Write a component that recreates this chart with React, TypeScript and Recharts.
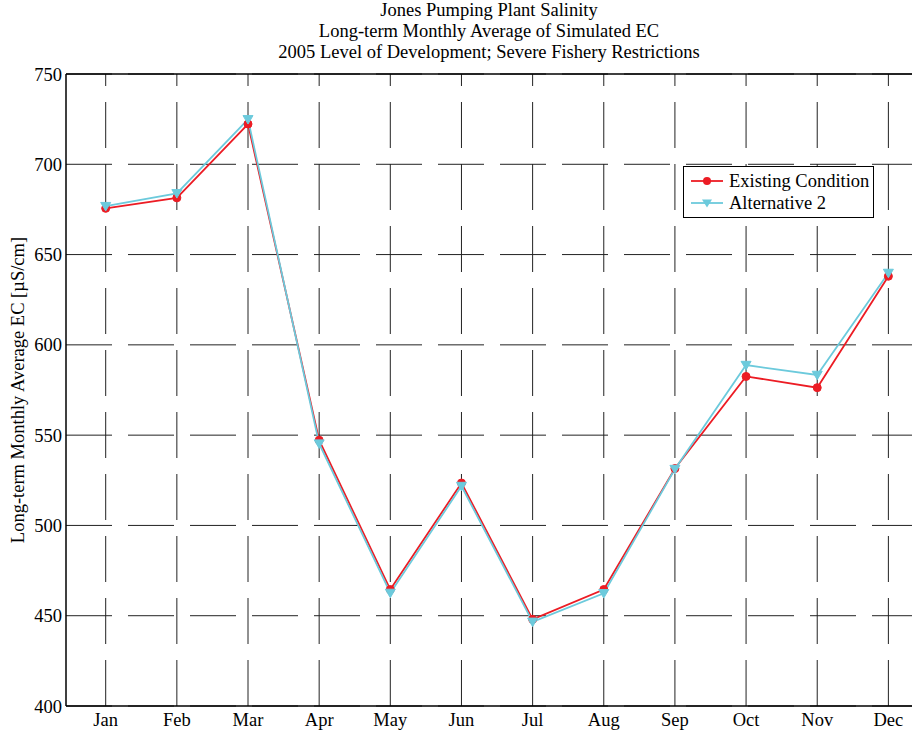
import React from "react";
import {
  LineChart,
  Line,
  XAxis,
  YAxis,
  CartesianGrid,
  ReferenceLine,
} from "recharts";

const months = ["Jan", "Feb", "Mar", "Apr", "May", "Jun", "Jul", "Aug", "Sep", "Oct", "Nov", "Dec"];
const existingCondition = [675.6, 681.4, 722.3, 547.2, 464.5, 523.5, 448.0, 464.5, 531.5, 582.5, 576.3, 638.0];
const alternative2 = [676.8, 683.9, 724.9, 545.3, 462.6, 521.8, 446.6, 462.4, 531.2, 588.8, 583.3, 639.8];
const yTicks = [400, 450, 500, 550, 600, 650, 700, 750];
const titleLines = [
  "Jones Pumping Plant Salinity",
  "Long-term Monthly Average of Simulated EC",
  "2005 Level of Development; Severe Fishery Restrictions",
];
const yLabel = "Long-term Monthly Average EC [µS/cm]";
const seriesNames = ["Existing Condition", "Alternative 2"];

const data = months.map((m, i) => ({
  idx: i + 1,
  month: m,
  existing: existingCondition[i],
  alt2: alternative2[i],
}));
const xTicks = data.map((d) => d.idx);

const RED = "#ec1c24";
const CYAN = "#6ccadc";
const FONT = "'Liberation Serif', 'Times New Roman', serif";
const FS = 18.5;

const TriangleDown = (props: any) => {
  const { cx, cy } = props;
  if (cx == null || cy == null) return null;
  const s = 5;
  return (
    <path
      d={`M${cx - s},${cy - s * 0.75} L${cx + s},${cy - s * 0.75} L${cx},${cy + s * 0.95} Z`}
      fill={CYAN}
      stroke={CYAN}
      strokeWidth={1}
    />
  );
};

const RedDot = (props: any) => {
  const { cx, cy } = props;
  if (cx == null || cy == null) return null;
  return <circle cx={cx} cy={cy} r={4} fill={RED} stroke={RED} strokeWidth={1} />;
};

const LegendBox = () => (
  <div
    style={{
      position: "absolute",
      left: 683,
      top: 166,
      border: "1.5px solid #000",
      background: "#fff",
      width: 191,
      height: 52,
      boxSizing: "border-box",
      padding: "3px 0 0 5px",
      fontFamily: FONT,
      fontSize: FS,
      color: "#000",
    }}
  >
    {seriesNames.map((name, i) => (
      <div key={name} style={{ display: "flex", alignItems: "center", height: 22 }}>
        <svg width={36} height={14} style={{ marginRight: 4, flex: "none" }}>
          <line x1={2} y1={7} x2={34} y2={7} stroke={i === 0 ? RED : CYAN} strokeWidth={1.8} />
          {i === 0 ? (
            <circle cx={18} cy={7} r={4} fill={RED} />
          ) : (
            <path d="M13,3.5 L23,3.5 L18,11.5 Z" fill={CYAN} />
          )}
        </svg>
        <span style={{ lineHeight: "22px", whiteSpace: "nowrap" }}>{name}</span>
      </div>
    ))}
  </div>
);

export default function App() {
  return (
    <div style={{ position: "absolute", left: 0, top: 0, width: 912, height: 733, background: "#fff", overflow: "hidden" }}>
      {titleLines.map((t, i) => (
        <div
          key={t}
          style={{
            position: "absolute",
            left: 66,
            width: 846,
            top: 0 + i * 21,
            textAlign: "center",
            fontFamily: FONT,
            fontSize: FS,
            lineHeight: "21px",
            color: "#000",
            whiteSpace: "nowrap",
          }}
        >
          {t}
        </div>
      ))}
      <div
        style={{
          position: "absolute",
          left: 18,
          top: 390,
          transform: "translate(-50%, -50%) rotate(-90deg)",
          fontFamily: FONT,
          fontSize: FS,
          whiteSpace: "nowrap",
          color: "#000",
        }}
      >
        {yLabel}
      </div>
      <div style={{ position: "absolute", left: 0, top: 0 }}>
        <LineChart
          width={912}
          height={733}
          data={data}
          margin={{ top: 74, right: 0, bottom: 0, left: 0 }}
        >
          <CartesianGrid
            vertical={false}
            stroke="#222"
            strokeWidth={1}
            strokeDasharray="46 16"
          />
          <XAxis
            dataKey="idx"
            type="number"
            domain={[0.442, 12.332]}
            ticks={xTicks}
            tickFormatter={(v: number) => months[v - 1]}
            allowDataOverflow
            height={27}
            stroke="#000"
            strokeWidth={1.5}
            tickLine={false}
            tickSize={0}
            tickMargin={7}
            tick={{ fill: "#000", fontFamily: FONT, fontSize: FS }}
            interval={0}
          />
          <YAxis
            type="number"
            domain={[400, 750]}
            ticks={yTicks}
            allowDataOverflow
            width={66}
            stroke="#000"
            strokeWidth={1.5}
            tickLine={false}
            tickSize={0}
            tickMargin={4}
            tick={{ fill: "#000", fontFamily: FONT, fontSize: FS }}
            interval={0}
          />
          {xTicks.map((x) => (
            <ReferenceLine
              key={`vg-${x}`}
              x={x}
              stroke="#222"
              strokeWidth={1}
              strokeDasharray="46 16"
            />
          ))}
          <ReferenceLine y={750} stroke="#000" strokeWidth={1.5} />
          <Line
            type="linear"
            dataKey="existing"
            name={seriesNames[0]}
            stroke={RED}
            strokeWidth={1.8}
            dot={<RedDot />}
            activeDot={false}
            isAnimationActive={false}
          />
          <Line
            type="linear"
            dataKey="alt2"
            name={seriesNames[1]}
            stroke={CYAN}
            strokeWidth={1.8}
            dot={<TriangleDown />}
            activeDot={false}
            isAnimationActive={false}
          />
        </LineChart>
      </div>
      <LegendBox />
    </div>
  );
}
